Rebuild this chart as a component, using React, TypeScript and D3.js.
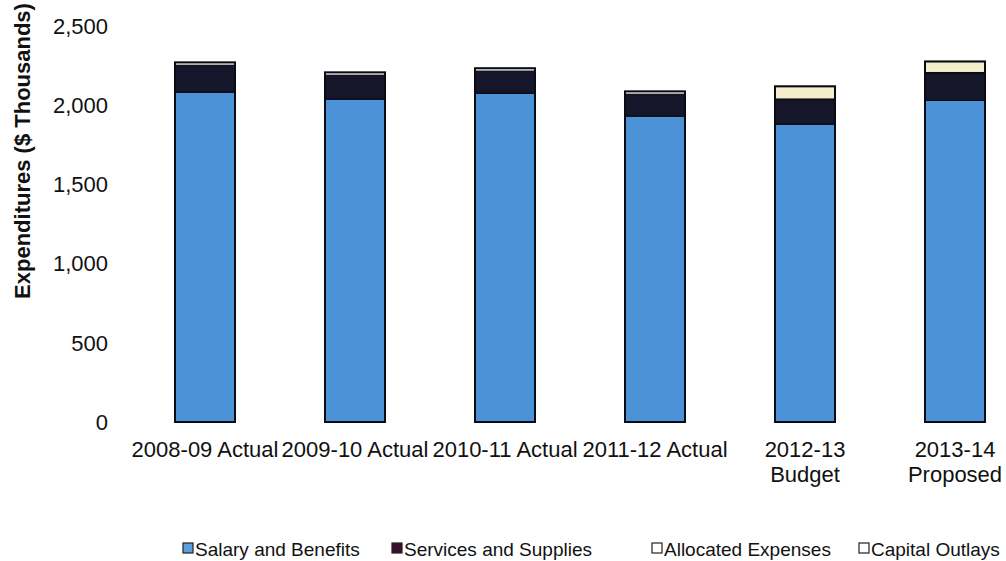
import React from "react";
import * as d3 from "d3";

const categories = [
  ["2008-09 Actual"],
  ["2009-10 Actual"],
  ["2010-11 Actual"],
  ["2011-12 Actual"],
  ["2012-13", "Budget"],
  ["2013-14", "Proposed"],
];
const salaryBenefits = [2082, 2038, 2075, 1931, 1880, 2031];
const servicesSupplies = [170, 151, 140, 138, 151, 170];
const allocatedExpenses = [18, 18, 18, 18, 8, 5];
const capitalOutlays = [0, 0, 0, 0, 80, 70];
const yTicks = [0, 500, 1000, 1500, 2000, 2500];
const seriesNames = ["Salary and Benefits", "Services and Supplies", "Allocated Expenses", "Capital Outlays"];

const colors = ["#4b92d6", "#16162a", "#ffffff", "#f3efcc"];
const legendSwatch = ["#5aa0dc", "#3a1030", "#ffffff", "#ffffff"];
const legendX = [183, 392, 652, 859];

export default function App() {
  const W = 1006, H = 561;
  const keys = categories.map((c) => c.join(" "));
  const x = d3.scaleBand<string>().domain(keys).range([130, 1030]).paddingInner(0.6).paddingOuter(0.3);
  const y = d3.scaleLinear().domain([0, 2500]).range([422, 26]);
  const rows = keys.map((k, i) => ({
    key: k,
    s0: salaryBenefits[i],
    s1: servicesSupplies[i],
    s2: allocatedExpenses[i],
    s3: capitalOutlays[i],
  }));
  const stack = d3.stack<any>().keys(["s0", "s1", "s2", "s3"]);
  const series = stack(rows);
  const font = "'Liberation Sans', Arial, sans-serif";

  return (
    <svg width={W} height={H} style={{ position: "absolute", left: 0, top: 0, background: "#fff" }}>
      <rect x={0} y={0} width={W} height={H} fill="#ffffff" />
      {/* y label */}
      <text
        transform={`translate(30,151) rotate(-90)`}
        textAnchor="middle"
        fontFamily={font}
        fontWeight="bold"
        fontSize={22}
        fill="#111"
      >
        Expenditures ($ Thousands)
      </text>
      {yTicks.map((t) => (
        <text key={t} x={108} y={y(t)} dy="0.35em" textAnchor="end" fontFamily={font} fontSize={22} fill="#111">
          {d3.format(",")(t)}
        </text>
      ))}
      {/* bars */}
      {series.map((s, si) =>
        s.map((d, i) => {
          const h = y(d[0]) - y(d[1]);
          if (h <= 0) return null;
          return (
            <rect
              key={si + "-" + i}
              x={x(keys[i])}
              y={y(d[1])}
              width={x.bandwidth()}
              height={h}
              fill={colors[si]}
              stroke="#0a0a14"
              strokeWidth={1.2}
            />
          );
        })
      )}
      {rows.map((r, i) => {
        const top = y(r.s0 + r.s1 + r.s2 + r.s3);
        return (
          <rect
            key={"o" + i}
            x={x(r.key)}
            y={top}
            width={x.bandwidth()}
            height={y(0) - top}
            fill="none"
            stroke="#0a0a14"
            strokeWidth={2}
          />
        );
      })}
      {/* x labels */}
      {categories.map((c, i) =>
        c.map((line, li) => (
          <text
            key={i + "-" + li}
            x={(x(keys[i]) as number) + x.bandwidth() / 2}
            y={457 + li * 25}
            textAnchor="middle"
            fontFamily={font}
            fontSize={22}
            fill="#111"
          >
            {line}
          </text>
        ))
      )}
      {/* legend */}
      {seriesNames.map((n, i) => (
        <g key={n}>
          <rect x={legendX[i]} y={543} width={10} height={10} fill={legendSwatch[i]} stroke="#222" strokeWidth={1.2} />
          <text x={legendX[i] + 12} y={555.5} fontFamily={font} fontSize={19} fill="#111">
            {n}
          </text>
        </g>
      ))}
    </svg>
  );
}
